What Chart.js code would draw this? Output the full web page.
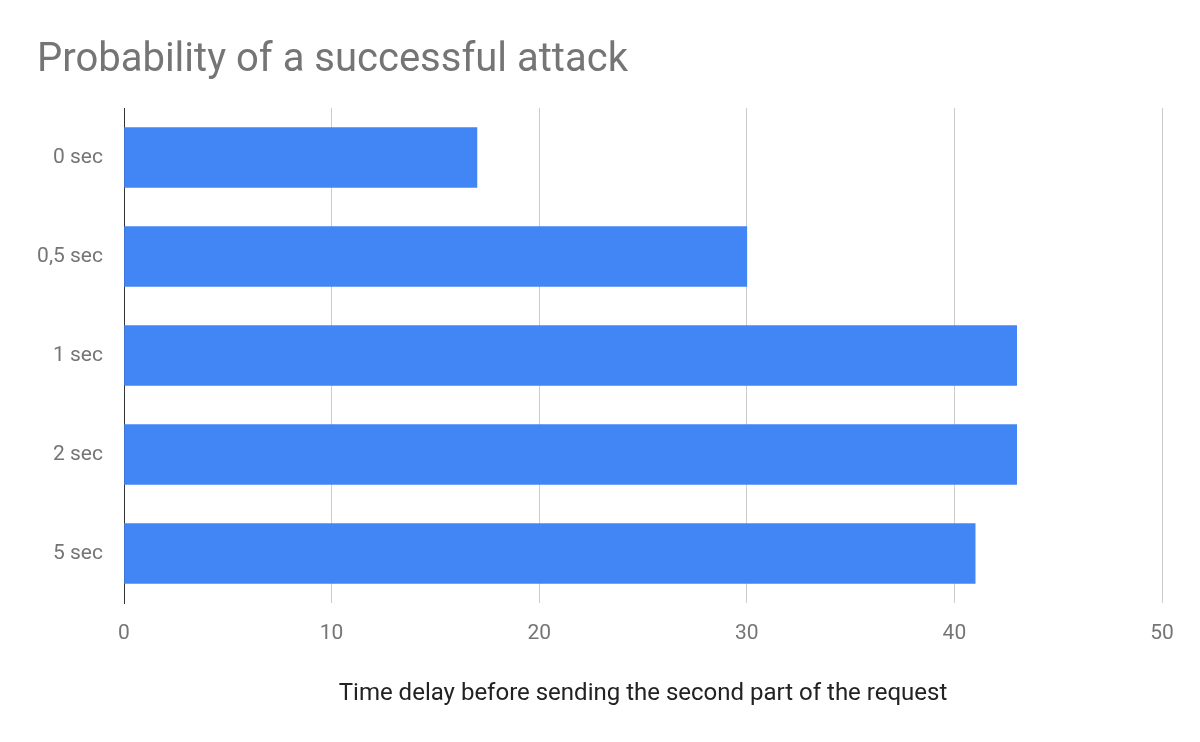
<!DOCTYPE html>
<html><head><meta charset="utf-8">
<script src="https://cdn.jsdelivr.net/npm/chart.js@4"></script>
<style>html,body{margin:0;padding:0;background:#fff}#w{width:1200px;height:742px}</style>
</head><body><div id="w"><canvas id="c"></canvas></div>
<script>
const categories = ["0 sec","0,5 sec","1 sec","2 sec","5 sec"];
const values = [17, 30, 43, 43, 41];
const xTicks = [0,10,20,30,40,50];
Chart.defaults.font.family = "Roboto";
new Chart(document.getElementById('c'), {
  type: 'bar',
  data: { labels: categories, datasets: [{ data: values, backgroundColor: '#4285f4', barThickness: 60 }] },
  options: {
    indexAxis: 'y', responsive: true, maintainAspectRatio: false, animation: false,
    layout: { padding: { left: 37, right: 38, top: 0, bottom: 30 } },
    plugins: {
      legend: { display: false }, tooltip: { enabled: false },
      title: { display: true, text: 'Probability of a successful attack', align: 'start', color: '#757575',
        font: { size: 40, weight: 'normal' }, padding: { top: 37, bottom: 23 } }
    },
    scales: {
      x: {
        min: 0, max: 50,
        afterBuildTicks: s => { s.ticks = xTicks.map(v => ({ value: v })); },
        afterFit: s => { s.height = 109; },
        grid: { color: ctx => ctx.index === 0 ? '#333' : '#cccccc', drawTicks: false, lineWidth: 1 },
        border: { display: false },
        ticks: { color: '#757575', font: { size: 21 }, padding: 18 },
        title: { display: true, text: 'Time delay before sending the second part of the request', color: '#222', font: { size: 24 }, padding: { top: 24 } }
      },
      y: {
        afterFit: s => { s.width = 87; },
        grid: { display: false },
        border: { display: true, color: '#333' },
        ticks: { color: '#757575', font: { size: 21 }, padding: 13 }
      }
    }
  }
});
</script></body></html>
